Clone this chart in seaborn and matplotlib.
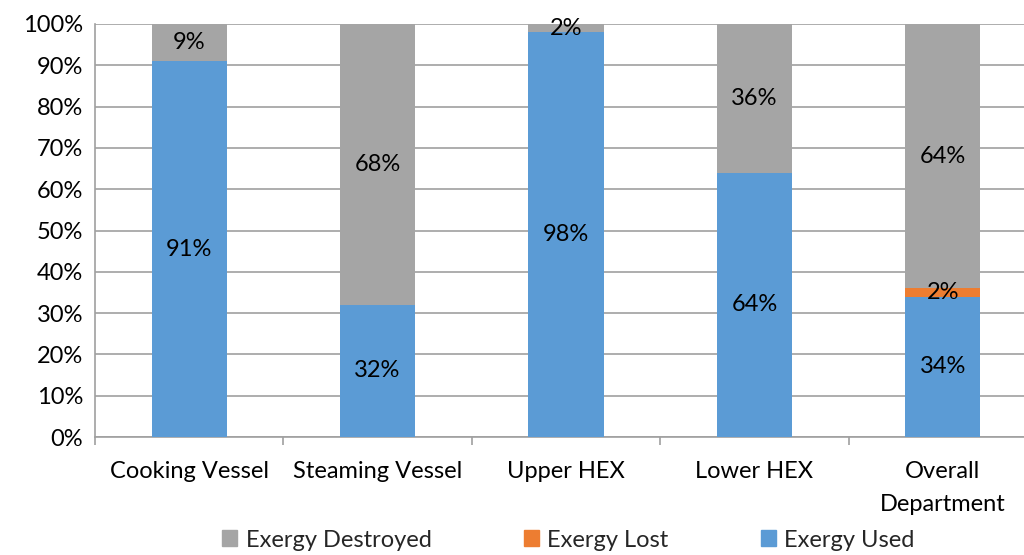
import matplotlib
matplotlib.use("Agg")
import matplotlib.pyplot as plt
from matplotlib.patches import Patch
from matplotlib.ticker import FixedLocator, PercentFormatter
import seaborn as sns
import pandas as pd

# Exergy breakdown per unit (percent of exergy input)
categories = ["Cooking Vessel", "Steaming Vessel", "Upper HEX", "Lower HEX", "Overall\nDepartment"]
exergy_used = [91, 32, 98, 64, 34]
exergy_lost = [0, 0, 0, 0, 2]
exergy_destroyed = [9, 68, 2, 36, 64]

COL_USED = "#5B9BD5"
COL_LOST = "#ED7D31"
COL_DESTROYED = "#A5A5A5"
GRID = "#A0A0A0"

sns.set_theme(style="white")
plt.rcParams["font.family"] = ["Lato", "DejaVu Sans"]
FS = 17

df = pd.DataFrame({
    "unit": categories,
    "used": exergy_used,
    "lost": exergy_lost,
    "destroyed": exergy_destroyed,
})
df["base_destroyed"] = df["used"] + df["lost"]

fig = plt.figure(figsize=(10.24, 5.55), dpi=100)
ax = fig.add_axes([95 / 1024, 118 / 555, 942 / 1024, 413 / 555])

sns.barplot(data=df, x="unit", y="used", color=COL_USED, width=0.4,
            saturation=1, ax=ax, linewidth=0, zorder=3)
sns.barplot(data=df, x="unit", y="lost", bottom=df["used"], color=COL_LOST,
            width=0.4, saturation=1, ax=ax, linewidth=0, zorder=3)
sns.barplot(data=df, x="unit", y="destroyed", bottom=df["base_destroyed"],
            color=COL_DESTROYED, width=0.4, saturation=1, ax=ax, linewidth=0, zorder=3)

for cont in ax.containers:
    labels = [f"{v:.0f}%" if v > 0 else "" for v in cont.datavalues]
    ax.bar_label(cont, labels=labels, label_type="center", fontsize=FS,
                 color="black", zorder=5)

ax.set_xlim(-0.5, len(categories) - 0.5)
ax.set_ylim(0, 100)
ax.yaxis.set_major_locator(FixedLocator(range(0, 101, 10)))
ax.yaxis.set_major_formatter(PercentFormatter(decimals=0))
ax.grid(axis="y", color=GRID, linewidth=1.2, zorder=0)
ax.set_axisbelow(True)

ax.set_xlabel("")
ax.set_ylabel("")
ax.set_xticks(range(len(categories)))
ax.set_xticklabels(categories, fontsize=FS, linespacing=1.7)
ax.xaxis.set_minor_locator(FixedLocator([i + 0.5 for i in range(-1, len(categories))]))
ax.tick_params(axis="x", which="major", length=0, pad=17, colors="black", labelsize=FS)
ax.tick_params(axis="x", which="minor", length=6, width=1.2, color=GRID, direction="out")
ax.tick_params(axis="y", which="major", length=6.5, width=1.2, color=GRID,
               direction="out", pad=2, labelsize=FS, labelcolor="black")
ax.tick_params(axis="x", which="minor", bottom=True)

for side in ["top", "right"]:
    ax.spines[side].set_visible(False)
for side in ["left", "bottom"]:
    ax.spines[side].set_color(GRID)
    ax.spines[side].set_linewidth(1.2)

handles = [Patch(color=COL_DESTROYED, label="Exergy Destroyed"),
           Patch(color=COL_LOST, label="Exergy Lost"),
           Patch(color=COL_USED, label="Exergy Used")]
fig.legend(handles=handles, loc="center", bbox_to_anchor=(0.555, 0.027),
           ncol=3, frameon=False, fontsize=FS, handlelength=0.65, handleheight=0.65,
           handletextpad=0.35, columnspacing=3.9, borderpad=0)

fig.savefig("out.png", dpi=100)
